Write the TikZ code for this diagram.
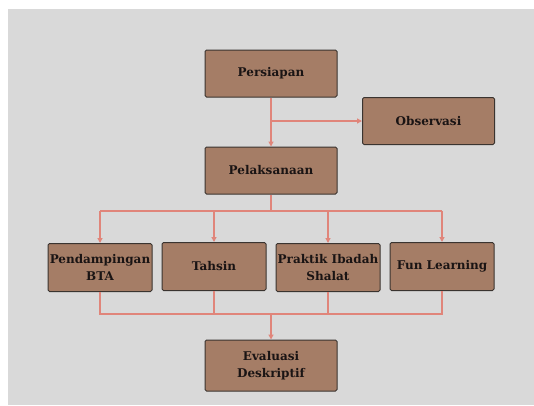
\documentclass[tikz,border=0pt]{standalone}
\usepackage{fontspec}
\setmainfont{DejaVu Serif}
\usetikzlibrary{arrows.meta}
\definecolor{bg}{HTML}{D9D9D9}
\definecolor{boxfill}{HTML}{A57D66}
\definecolor{boxline}{HTML}{3A3430}
\definecolor{conn}{HTML}{E0857A}
\definecolor{txt}{HTML}{1A1414}
\tikzset{
  box/.style={draw=boxline, line width=1pt, fill=boxfill, rounded corners=1.5pt,
    text=txt, font=\bfseries\fontsize{12}{17}\selectfont, align=center, inner sep=0pt},
  mainbox/.style={box, minimum width=132pt, minimum height=47pt},
  subbox/.style={box, minimum width=104pt, minimum height=48pt},
  link/.style={draw=conn, line width=1.2pt},
  arr/.style={link, -{Triangle[length=5pt,width=5pt]}},
}
\begin{document}
\begin{tikzpicture}[x=1pt,y=-1pt]
\fill[white] (0,0) rectangle (534,405);
\fill[bg] (8,9) rectangle (534,405);
\useasboundingbox (0,0) rectangle (534,405);
\node[mainbox] (pers) at (271,73.5) {Persiapan};
\node[mainbox] (obs) at (428.5,121) {Observasi};
\node[mainbox] (pel) at (271,170.5) {Pelaksanaan};
\node[subbox] (bta) at (100,267.5) {Pendampingan\\BTA};
\node[subbox] (tah) at (214,266.5) {Tahsin};
\node[subbox] (pra) at (328,267.5) {Praktik Ibadah\\Shalat};
\node[subbox] (fun) at (442,266.5) {Fun Learning};
\node[mainbox, minimum height=51pt] (eva) at (271,365.5) {Evaluasi\\Deskriptif};
\coordinate (j1) at (271,121);
\coordinate (j2) at (271,211);
\coordinate (j3) at (271,314);
\draw[arr] (pers.south) -- (pel.north);
\draw[arr] (j1) -- (obs.west);
\draw[link] (pel.south) -- (j2);
\draw[link] (bta.north |- j2) -- (fun.north |- j2);
\draw[arr] (bta.north |- j2) -- (bta.north);
\draw[arr] (tah.north |- j2) -- (tah.north);
\draw[arr] (pra.north |- j2) -- (pra.north);
\draw[arr] (fun.north |- j2) -- (fun.north);
\draw[link] (bta.south) -- (bta.south |- j3) -- (fun.south |- j3) -- (fun.south);
\draw[link] (tah.south) -- (tah.south |- j3);
\draw[link] (pra.south) -- (pra.south |- j3);
\draw[arr] (j3) -- (eva.north);
\end{tikzpicture}
\end{document}
